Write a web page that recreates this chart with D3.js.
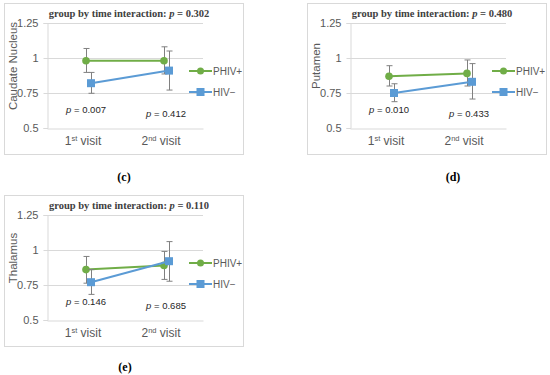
<!DOCTYPE html>
<html>
<head>
<meta charset="utf-8">
<script src="https://cdn.jsdelivr.net/npm/d3@7"></script>
<style>
  body { margin: 0; background: #fff; }
  svg { display: block; }
  .tick text { font-family: "Liberation Sans Narrow", "Liberation Sans", Arial, sans-serif; font-size: 11px; fill: #595959; }
</style>
</head>
<body>
<svg id="main" width="550" height="375"></svg>
<script>
// shared categories and ticks
var visits = ["1st", "2nd"];
var groups = ["PHIV+", "HIV\u2212"];
var yTicks = [0.5, 0.75, 1, 1.25];

// (c) caudate nucleus
var caudatePHIV = [0.98, 0.98];
var caudatePHIVErr = [[0.897, 1.068], [0.886, 1.08]];
var caudateHIV = [0.82, 0.91];
var caudateHIVErr = [[0.748, 0.897], [0.771, 1.05]];
var caudateP = ["0.007", "0.412"];

// (d) putamen
var putamenPHIV = [0.87, 0.89];
var putamenPHIVErr = [[0.80, 0.945], [0.80, 0.986]];
var putamenHIV = [0.75, 0.83];
var putamenHIVErr = [[0.688, 0.816], [0.707, 0.96]];
var putamenP = ["0.010", "0.433"];

// (e) thalamus
var thalamusPHIV = [0.86, 0.89];
var thalamusPHIVErr = [[0.763, 0.954], [0.79, 0.99]];
var thalamusHIV = [0.77, 0.92];
var thalamusHIVErr = [[0.683, 0.86], [0.777, 1.06]];
var thalamusP = ["0.146", "0.685"];

var colors = { phiv: "#70AD47", hiv: "#5B9BD5" };
var svg = d3.select("#main");

var panels = [
  { label: "Caudate Nucleus", inter: "0.302", dx: 0, dy: 0, phiv: caudatePHIV, phivErr: caudatePHIVErr, hiv: caudateHIV, hivErr: caudateHIVErr, p: caudateP, caption: "(c)", cx: 124, cy: 181 },
  { label: "Putamen", inter: "0.480", dx: 303, dy: 0, phiv: putamenPHIV, phivErr: putamenPHIVErr, hiv: putamenHIV, hivErr: putamenHIVErr, p: putamenP, caption: "(d)", cx: 453, cy: 181 },
  { label: "Thalamus", inter: "0.110", dx: 0, dy: 192, phiv: thalamusPHIV, phivErr: thalamusPHIVErr, hiv: thalamusHIV, hivErr: thalamusHIVErr, p: thalamusP, caption: "(e)", cx: 125, cy: 371 }
];

panels.forEach(drawPanel);

function drawPanel(cfg) {
  var g = svg.append("g").attr("transform", "translate(" + cfg.dx + "," + cfg.dy + ")");

  // chart border
  g.append("rect")
    .attr("x", 4.5).attr("y", 3.5).attr("width", 239).attr("height", 151)
    .attr("fill", "#fff").attr("stroke", "#d9d9d9");

  var x = d3.scaleBand().domain(visits).range([47, 203]);
  var y = d3.scaleLinear().domain([0.5, 1.25]).range([128, 23]);

  // gridlines
  g.append("g").selectAll("line").data(yTicks.slice(1)).join("line")
    .attr("x1", 47).attr("x2", 203)
    .attr("y1", function(d) { return Math.round(y(d)) + 0.5; })
    .attr("y2", function(d) { return Math.round(y(d)) + 0.5; })
    .attr("stroke", "#d9d9d9");

  var yAxis = g.append("g").attr("transform", "translate(47.5,0)")
    .call(d3.axisLeft(y).tickValues(yTicks).tickSize(4).tickFormat(d3.format("")));
  yAxis.select(".domain").attr("stroke", "#d9d9d9");
  yAxis.selectAll(".tick line").attr("stroke", "#d9d9d9");
  yAxis.selectAll(".tick text").attr("x", -9);

  var xAxis = g.append("g").attr("transform", "translate(0,128.5)")
    .call(d3.axisBottom(x).tickSize(0).tickFormat(""));
  xAxis.select(".domain").attr("stroke", "#d9d9d9");

  // category labels with superscripts
  visits.forEach(function(v) {
    var t = g.append("text")
      .attr("x", x(v) + x.bandwidth() / 2 - 3).attr("y", 145)
      .attr("text-anchor", "middle")
      .style("font-family", "Liberation Sans, Arial, sans-serif")
      .style("font-size", "12px").style("fill", "#595959");
    t.append("tspan").text(v.charAt(0));
    t.append("tspan").attr("dy", -4.5).style("font-size", "7.5px").text(v.slice(1));
    t.append("tspan").attr("dy", 4.5).text(" visit");
  });

  // y axis title
  g.append("text")
    .attr("transform", "translate(17,66) rotate(-90)")
    .attr("text-anchor", "middle")
    .style("font-family", "Liberation Sans, Arial, sans-serif")
    .style("font-size", "11.5px").style("fill", "#595959")
    .text(cfg.label);

  // interaction title
  var title = g.append("text")
    .attr("x", 129).attr("y", 17)
    .attr("text-anchor", "middle")
    .style("font-family", "Liberation Serif, Times New Roman, serif")
    .style("font-size", "10.5px").style("font-weight", "bold").style("fill", "#404040");
  title.append("tspan").text("group by time interaction: ");
  title.append("tspan").style("font-style", "italic").text("p");
  title.append("tspan").text(" = " + cfg.inter);

  // per-visit p values
  cfg.p.forEach(function(pv, i) {
    var t = g.append("text")
      .attr("x", x(visits[i]) + x.bandwidth() / 2 + (i === 0 ? 0 : 2))
      .attr("y", i === 0 ? 113 : 117)
      .attr("text-anchor", "middle")
      .style("font-family", "Liberation Sans, Arial, sans-serif")
      .style("font-size", "9.5px").style("fill", "#262626");
    t.append("tspan").style("font-style", "italic").text("p");
    t.append("tspan").text(" = " + pv);
  });

  var series = [
    { key: "phiv", vals: cfg.phiv, err: cfg.phivErr, off: 0, shape: "circle" },
    { key: "hiv", vals: cfg.hiv, err: cfg.hivErr, off: 5, shape: "square" }
  ];

  series.forEach(function(s) {
    var cxf = function(i) { return x(visits[i]) + x.bandwidth() / 2 + s.off; };
    var idx = [0, 1];

    // error bars
    var eb = g.append("g").attr("stroke", "#808080").attr("stroke-width", 1);
    idx.forEach(function(i) {
      var xc = Math.round(cxf(i)) + 0.5;
      eb.append("line").attr("x1", xc).attr("x2", xc).attr("y1", y(s.err[i][0])).attr("y2", y(s.err[i][1]));
      eb.append("line").attr("x1", xc - 3).attr("x2", xc + 3).attr("y1", y(s.err[i][0])).attr("y2", y(s.err[i][0]));
      eb.append("line").attr("x1", xc - 3).attr("x2", xc + 3).attr("y1", y(s.err[i][1])).attr("y2", y(s.err[i][1]));
    });

    g.append("path")
      .datum(idx)
      .attr("fill", "none").attr("stroke", colors[s.key]).attr("stroke-width", 2)
      .attr("d", d3.line().x(function(i) { return cxf(i); }).y(function(i) { return y(s.vals[i]); }));

    idx.forEach(function(i) {
      if (s.shape === "circle") {
        g.append("circle").attr("cx", cxf(i)).attr("cy", y(s.vals[i])).attr("r", 3.8).attr("fill", colors[s.key]);
      } else {
        g.append("rect").attr("x", cxf(i) - 4).attr("y", y(s.vals[i]) - 4).attr("width", 8).attr("height", 8).attr("fill", colors[s.key]);
      }
    });
  });

  // legend
  var legY = [71, 92];
  series.forEach(function(s, i) {
    g.append("line").attr("x1", 189).attr("x2", 212).attr("y1", legY[i]).attr("y2", legY[i])
      .attr("stroke", colors[s.key]).attr("stroke-width", 2);
    if (s.shape === "circle") {
      g.append("circle").attr("cx", 200.5).attr("cy", legY[i]).attr("r", 3.5).attr("fill", colors[s.key]);
    } else {
      g.append("rect").attr("x", 196.5).attr("y", legY[i] - 4).attr("width", 8).attr("height", 8).attr("fill", colors[s.key]);
    }
    g.append("text").attr("x", 213).attr("y", legY[i] + 3.5)
      .style("font-family", "Liberation Sans, Arial, sans-serif")
      .style("font-size", "10px").style("fill", "#595959")
      .text(groups[i]);
  });

  // caption
  svg.append("text")
    .attr("x", cfg.cx).attr("y", cfg.cy)
    .attr("text-anchor", "middle")
    .style("font-family", "Liberation Serif, Times New Roman, serif")
    .style("font-size", "12px").style("font-weight", "bold").style("fill", "#000")
    .text(cfg.caption);
}
</script>
</body>
</html>
